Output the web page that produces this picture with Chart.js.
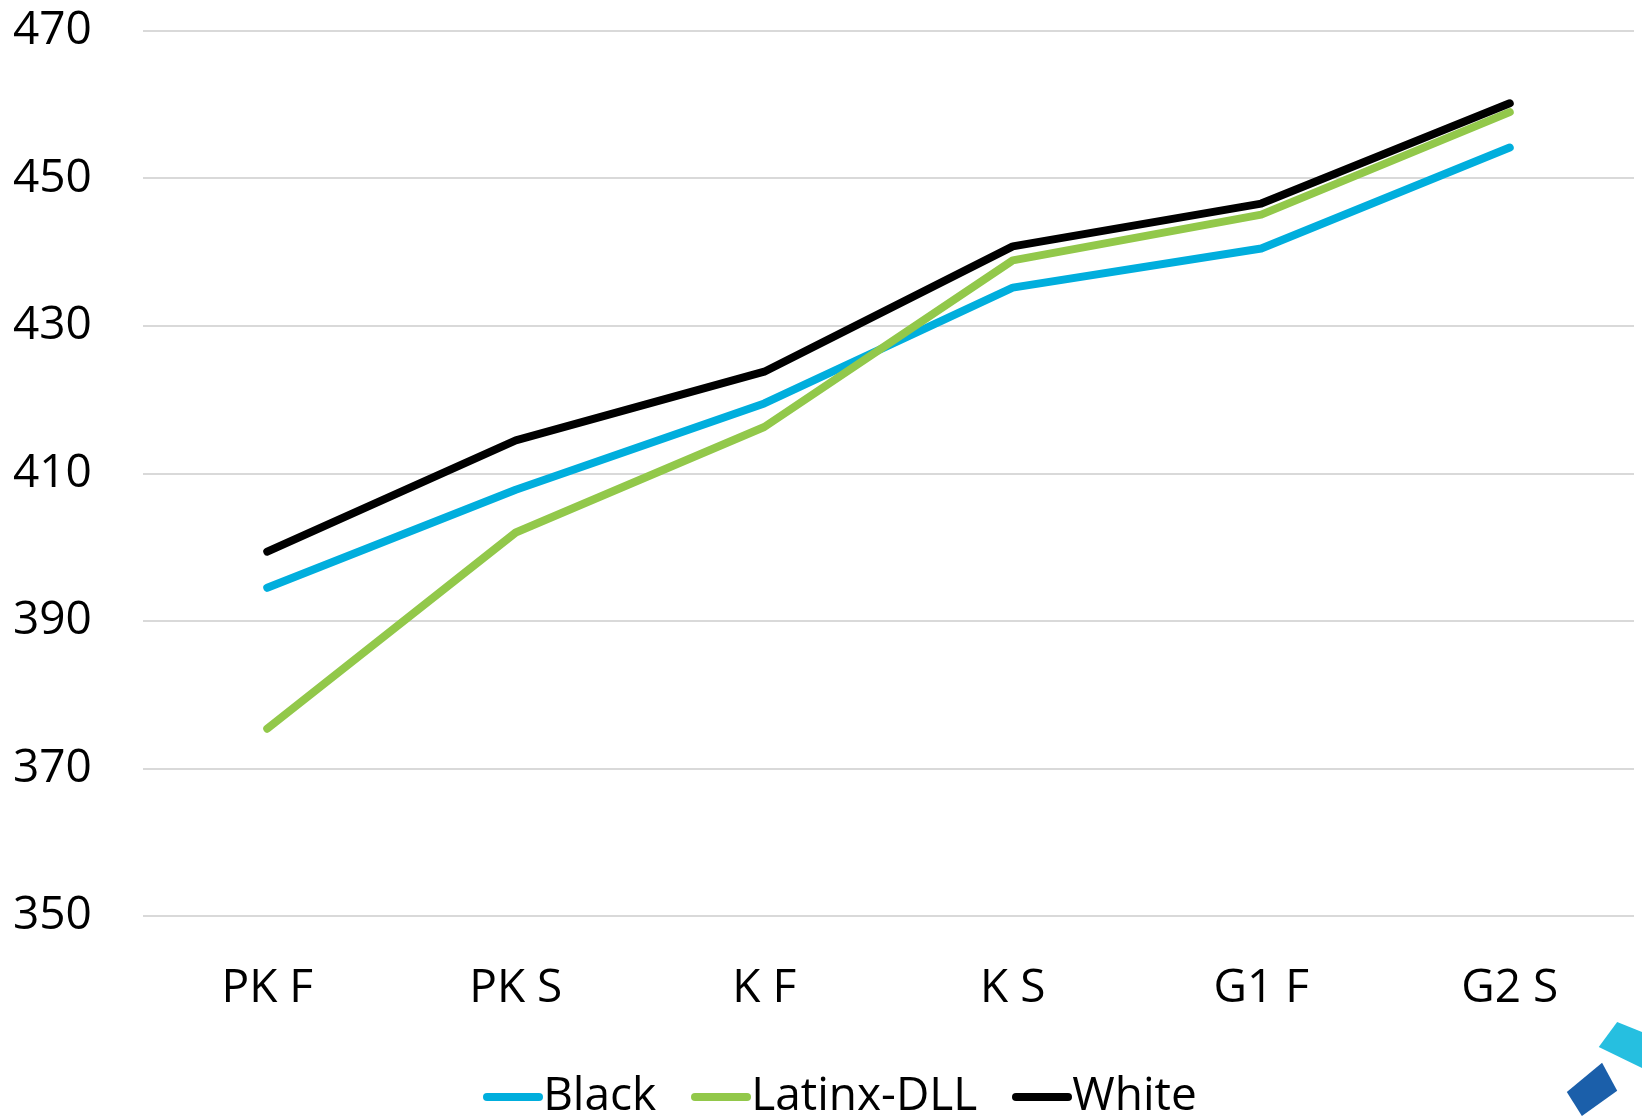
<!DOCTYPE html>
<html>
<head>
<meta charset="utf-8">
<script src="https://cdn.jsdelivr.net/npm/chart.js@4/dist/chart.umd.min.js"></script>
<style>
    html, body { margin: 0; padding: 0; background: #fff; }
    body { width: 1642px; height: 1116px; position: relative; overflow: hidden; }
    #scoreChart { position: absolute; left: 0; top: 0; }
    .score-legend {
        position: absolute; left: 0; top: 1064px; width: 1642px; padding-left: 38px; box-sizing: border-box;
        display: flex; justify-content: center; align-items: flex-start;
        font-family: 'Open Sans', sans-serif; font-size: 46px; line-height: 56px; color: #000;
    }
    .score-legend .item { display: flex; align-items: flex-start; margin-right: 35px; }
    .score-legend .item:last-child { margin-right: 0; }
    .score-legend .swatch { width: 60px; height: 8px; border-radius: 4px; margin-top: 29px; }
    .logo-a, .logo-b { position: absolute; }
    .logo-a { left: 1596px; top: 1020px; width: 46px; height: 50px; background: #26BFE0;
        clip-path: polygon(46% 4%, 100% 24%, 100% 96%, 6% 54%); }
    .logo-b { left: 1564px; top: 1060px; width: 56px; height: 56px; background: #1B5FAA;
        clip-path: polygon(68% 5%, 95% 55%, 32% 100%, 5% 57%); }
</style>
</head>
<body>
<canvas id="scoreChart" width="1642" height="1116"></canvas>
<div class="score-legend" id="scoreLegend"></div>
<div class="logo-a"></div>
<div class="logo-b"></div>
<script>
(function () {
    'use strict';

    // ── Data ──────────────────────────────────────────────────
    var categories   = ['PK F', 'PK S', 'K F', 'K S', 'G1 F', 'G2 S'];
    var blackScores  = [394.5, 407.8, 419.5, 435.2, 440.5, 454.2];
    var latinxScores = [375.4, 402.0, 416.3, 438.9, 445.1, 459.0];
    var whiteScores  = [399.4, 414.5, 423.8, 440.8, 446.6, 460.2];
    var yTicks       = [350, 370, 390, 410, 430, 450, 470];

    var font = { family: "'Open Sans', sans-serif", size: 46 };

    function series(label, data, color, order) {
        return {
            label: label,
            data: data,
            borderColor: color,
            backgroundColor: color,
            borderWidth: 8,
            borderCapStyle: 'round',
            borderJoinStyle: 'round',
            pointRadius: 0,
            tension: 0,
            fill: false,
            order: order
        };
    }

    var chart = new Chart(document.getElementById('scoreChart'), {
        type: 'line',
        data: {
            labels: categories,
            datasets: [
                series('Black', blackScores, '#00AEDD', 3),
                series('Latinx-DLL', latinxScores, '#92C84A', 2),
                series('White', whiteScores, '#000000', 1)
            ]
        },
        options: {
            responsive: false,
            animation: false,
            devicePixelRatio: 1,
            layout: { padding: { top: 31, right: 8, bottom: 104, left: 13 } },
            plugins: { legend: { display: false }, tooltip: { enabled: false } },
            scales: {
                x: {
                    offset: true,
                    grid: { display: false },
                    border: { display: false },
                    ticks: { color: '#000', font: font, padding: 37, maxRotation: 0 },
                    afterFit: function (s) { s.height = 96; }
                },
                y: {
                    min: yTicks[0],
                    max: yTicks[yTicks.length - 1],
                    afterBuildTicks: function (s) {
                        s.ticks = yTicks.map(function (v) { return { value: v }; });
                    },
                    grid: { color: '#D9D9D9', lineWidth: 2, drawTicks: false },
                    border: { display: false },
                    // labels sit flush left, well away from the grid
                    ticks: { color: '#000', font: font, padding: 0, crossAlign: 'far' },
                    afterFit: function (s) { s.width = 130; }
                }
            }
        }
    });

    // ── Legend (built from the chart's datasets) ──────────────
    var legend = document.getElementById('scoreLegend');
    chart.data.datasets.forEach(function (ds) {
        var item = document.createElement('div');
        item.className = 'item';
        var sw = document.createElement('div');
        sw.className = 'swatch';
        sw.style.background = ds.borderColor;
        var txt = document.createElement('span');
        txt.textContent = ds.label;
        item.appendChild(sw);
        item.appendChild(txt);
        legend.appendChild(item);
    });
}());
</script>
</body>
</html>
